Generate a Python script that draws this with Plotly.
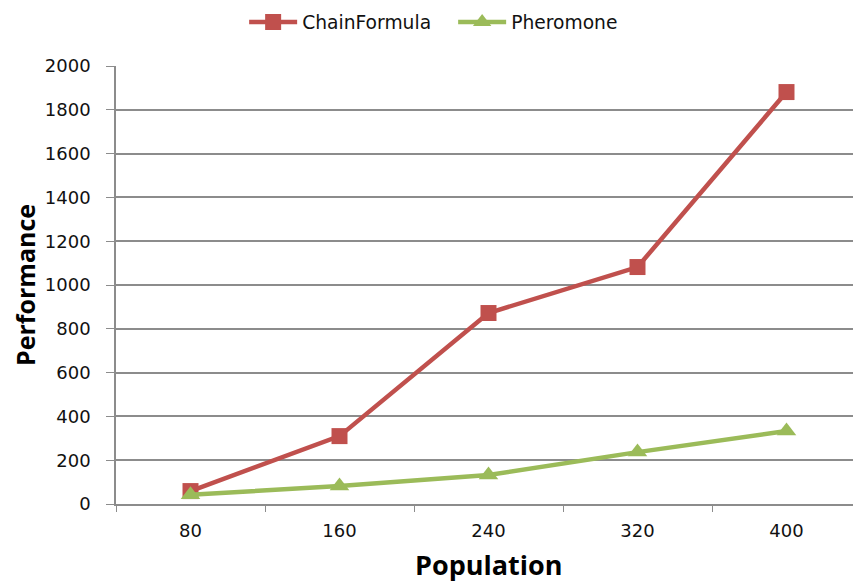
import plotly.graph_objects as go

population = ["80", "160", "240", "320", "400"]
chain_formula = [59, 310, 872, 1082, 1881]
pheromone = [42, 82, 132, 237, 333]

red = "#C0504D"
green = "#9BBB59"
grid = "#8C8C8C"

fig = go.Figure()
fig.add_trace(go.Scatter(
    x=population, y=chain_formula, name="ChainFormula", mode="lines+markers",
    line=dict(color=red, width=4.5), marker=dict(symbol="square", size=16, color=red),
))
fig.add_trace(go.Scatter(
    x=population, y=pheromone, name="Pheromone", mode="lines+markers",
    line=dict(color=green, width=4.5), marker=dict(symbol="triangle-up", size=17, color=green),
))

fig.update_layout(
    width=853, height=573,
    margin=dict(l=108, r=0, t=58, b=77, autoexpand=False),
    paper_bgcolor="white", plot_bgcolor="white",
    font=dict(family="DejaVu Sans", size=18, color="#111111"),
    legend=dict(orientation="h", x=0.172, xanchor="left", y=0.975, yanchor="middle",
                yref="container", font=dict(size=18.7), itemwidth=48, tracegroupgap=0,
                entrywidth=146, entrywidthmode="pixels"),
    showlegend=True,
    annotations=[
        dict(text="<b>Population</b>", x=0.5, xref="paper", y=0, yref="paper",
             yshift=-60, yanchor="middle", xanchor="center", showarrow=False,
             font=dict(family="Open Sans", size=27, color="#000")),
        dict(text="<b>Performance</b>", x=0, xref="paper", y=0.5, yref="paper",
             xshift=-91, xanchor="center", yanchor="middle", textangle=-90, showarrow=False,
             font=dict(family="Open Sans", size=25, color="#000")),
    ],
)
fig.update_xaxes(
    type="category", range=[-0.5, 4.5], tickson="boundaries", ticks="outside", ticklen=6,
    tickcolor=grid, showgrid=False, showline=True, linecolor=grid, linewidth=1.5,
    ticklabelstandoff=10, automargin=False,
)
fig.update_yaxes(
    range=[0, 2000], dtick=200, ticks="outside", ticklen=8, tickcolor=grid,
    showgrid=True, gridcolor=grid, gridwidth=1.5, showline=True, linecolor=grid, linewidth=1.5,
    zeroline=False, ticklabelstandoff=12, automargin=False,
)

fig.write_html("out.html")
